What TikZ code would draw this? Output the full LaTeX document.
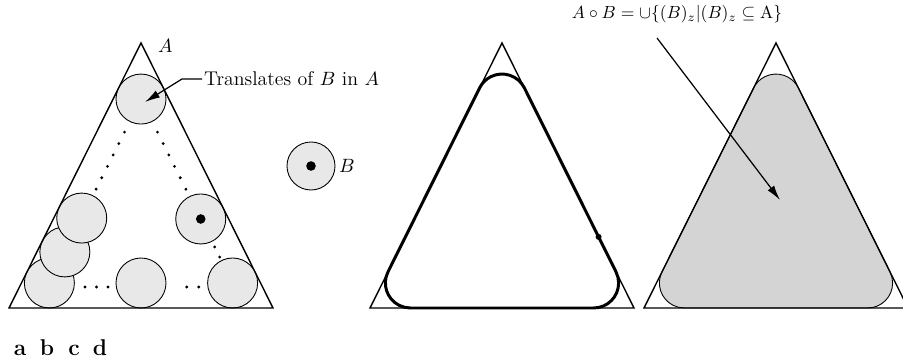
\documentclass[tikz,border=0pt]{standalone}
\usepackage{tikz}
\usetikzlibrary{arrows.meta, calc}
\definecolor{stipple}{RGB}{232,232,232}
\definecolor{stippleDark}{RGB}{212,212,212}

% A opened by B: the triangle with its corners rounded off by B,
% started from the eroded left corner
\newcommand{\openedpath}[1]{(#1) ++(0,-25) -- ++(183.24,0)
  arc[start angle=-90,end angle=26.48,radius=25] -- ++(-91.62,183.94)
  arc[start angle=26.48,end angle=153.52,radius=25] -- ++(-91.62,-183.94)
  arc[start angle=153.52,end angle=270,radius=25] -- cycle}

\begin{document}
\begin{tikzpicture}[x=0.02cm, y=0.02cm,
  edge/.style={line width=0.8pt},
  disk/.style={draw, line width=0.5pt, fill=stipple},
  tag/.style={font=\fontsize{11.3}{13}\selectfont, inner sep=1pt},
  pointer/.style={line width=0.7pt, -{Latex[length=3mm,width=1.6mm]}}]
  \useasboundingbox (0,0) rectangle (903,361);

  % corners of A, three times
  \coordinate (L1) at (9,53);   \coordinate (R1) at (273,53); \coordinate (T1) at (141,318);
  \coordinate (L2) at (370,53); \coordinate (R2) at (634,53); \coordinate (T2) at (502,318);
  \coordinate (L3) at (644,53); \coordinate (R3) at (908,53); \coordinate (T3) at (776,318);
  % A eroded by B
  \coordinate (El1) at (49.38,78);  \coordinate (Er1) at (232.62,78); \coordinate (Ea1) at (141,261.94);
  \coordinate (El2) at (410.38,78); \coordinate (Er2) at (593.62,78); \coordinate (Ea2) at (502,261.94);
  \coordinate (El3) at (684.38,78);

  % (a) translates of B in A
  \filldraw[disk] (El1) circle (25);
  \filldraw[disk] ($(El1)!0.169!(Ea1)$) circle (25);
  \filldraw[disk] ($(El1)!0.353!(Ea1)$) circle (25);
  \filldraw[disk] (Ea1) circle (25);
  \filldraw[disk] ($(El1)!0.5!(Er1)$) circle (25);
  \filldraw[disk] (Er1) circle (25);
  \filldraw[disk] ($(Er1)!0.348!(Ea1)$) circle (25);
  \fill ($(Er1)!0.348!(Ea1)$) circle (4.8);
  \foreach \t in {0.51,0.572,...,0.83} {
    \fill ($(El1)!\t!(Ea1)$) circle (0.9pt);
    \fill ($(Er1)!\t!(Ea1)$) circle (0.9pt);
  }
  \foreach \t in {0.141,0.196}
    \fill ($(Er1)!\t!(Ea1)$) circle (0.9pt);
  \foreach \t in {0.194,0.257,0.32,0.75,0.815}
    \fill ($(El1)!\t!(Er1)+(0,-4)$) circle (0.9pt);
  \draw[edge] (L1) -- (R1) -- (T1) -- cycle;
  \node[tag, anchor=south west] (setA) at (156,306) {$A$};
  \node[tag, anchor=west] (trans) at (202,282) {Translates of $B$ in $A$};
  \coordinate (transTip) at (145,259);
  \draw[pointer] (trans.west) -- ++(-20,0) -- (transTip);

  % (b) structuring element
  \filldraw[disk] (311,195) circle (24);
  \fill (311,195) circle (4.8);
  \node[tag, anchor=west] (setB) at (337,195) {$B$};

  % (c) boundary of the opening
  \draw[line width=1.7pt] \openedpath{El2};
  \fill ($(Er2)!0.19!(Ea2)+(26.48:25)$) circle (3);
  \draw[edge] (L2) -- (R2) -- (T2) -- cycle;

  % (d) the opening
  \filldraw[fill=stippleDark, line width=0.5pt] \openedpath{El3};
  \draw[edge] (L3) -- (R3) -- (T3) -- cycle;
  \node[tag, font=\fontsize{10}{12}\selectfont] (opening) at (677,347)
    {$A \circ B = \cup\{(B)_z|(B)_z \subseteq \mathrm{A}\}$};
  \coordinate (openTail) at (657,323);
  \coordinate (openTip) at (780,161);
  \draw[pointer] (openTail) -- (openTip);

  \foreach \l/\x in {a/20,b/47,c/74,d/100}
    \node[font=\bfseries\fontsize{13}{15}\selectfont, anchor=base] (part\l) at (\x,5) {\l};
\end{tikzpicture}
\end{document}
